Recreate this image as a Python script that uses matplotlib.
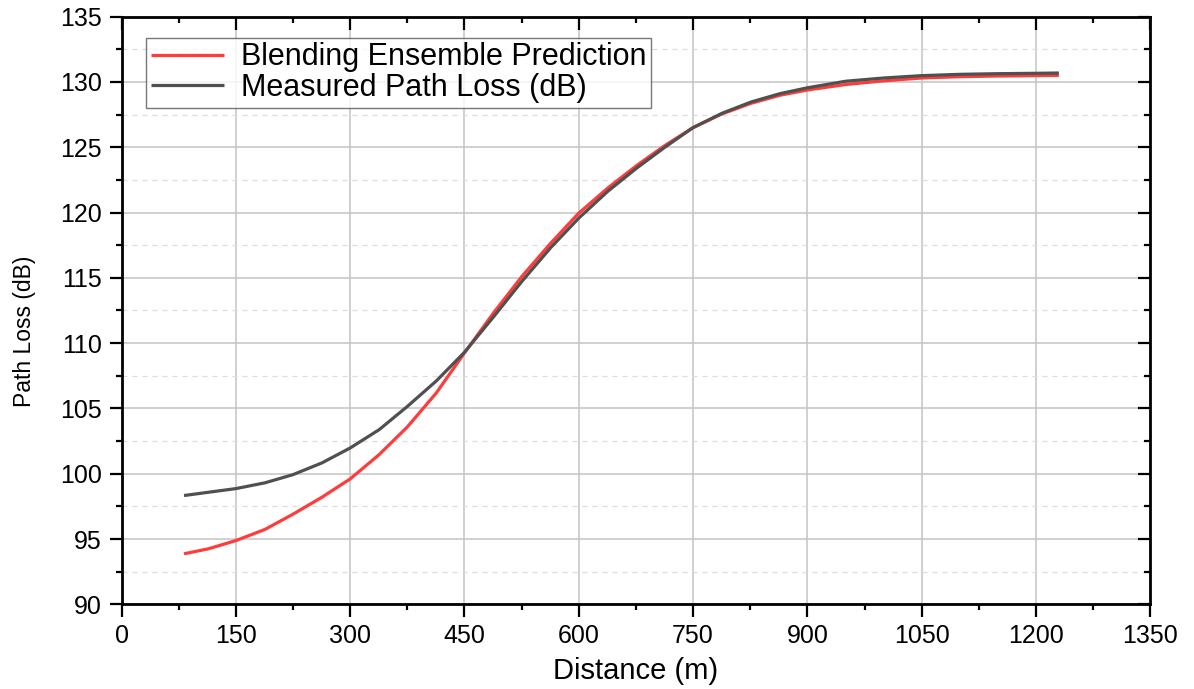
import matplotlib
matplotlib.use("Agg")
import matplotlib.pyplot as plt
from matplotlib.ticker import MultipleLocator
from matplotlib.lines import TICKDOWN, TICKLEFT

plt.rcParams['font.family'] = ['Liberation Sans', 'DejaVu Sans']

distance = [82, 114, 150, 188, 225, 263, 300, 338, 375, 413, 450, 488, 525,
            563, 600, 638, 676, 713, 750, 788, 826, 864, 900, 950, 1000, 1050,
            1100, 1150, 1200, 1230]
predicted = [93.87, 94.25, 94.88, 95.73, 96.9, 98.2, 99.6, 101.46, 103.58,
             106.18, 109.25, 112.3, 115.08, 117.64, 119.95, 121.87, 123.6,
             125.13, 126.5, 127.55, 128.36, 128.98, 129.38, 129.8, 130.08,
             130.3, 130.4, 130.45, 130.48, 130.5]
measured = [98.33, 98.58, 98.86, 99.3, 99.93, 100.83, 101.97, 103.37, 105.15,
            107.1, 109.3, 112.0, 114.7, 117.3, 119.57, 121.62, 123.4, 125.0,
            126.5, 127.6, 128.46, 129.1, 129.55, 130.05, 130.3, 130.48, 130.58,
            130.63, 130.66, 130.68]

label_pred = "Blending Ensemble Prediction"
label_meas = "Measured Path Loss (dB)"
xlabel = "Distance (m)"
ylabel = "Path Loss (dB)"

fig = plt.figure(figsize=(11.94, 6.89), dpi=100)
ax = fig.add_axes([0.1018, 0.1229, 0.8616, 0.8530])

ax.plot(distance, predicted, color='#ff3b3b', lw=2.3, label=label_pred,
        zorder=3, solid_capstyle='butt', solid_joinstyle='round')
ax.plot(distance, measured, color='#505050', lw=2.3, label=label_meas,
        zorder=4, solid_capstyle='butt', solid_joinstyle='round')

ax.set_xlim(0, 1350)
ax.set_ylim(90, 135)
ax.xaxis.set_major_locator(MultipleLocator(150))
ax.xaxis.set_minor_locator(MultipleLocator(75))
ax.yaxis.set_major_locator(MultipleLocator(5))
ax.yaxis.set_minor_locator(MultipleLocator(2.5))

ax.grid(which='major', axis='both', color='#c4c4c4', lw=1.1, ls='-', zorder=0)
ax.grid(which='minor', axis='y', color='#dcdcdc', lw=0.9, ls=(0, (4, 4)), zorder=0)
ax.set_axisbelow(True)

for s in ax.spines.values():
    s.set_linewidth(2.0)
    s.set_color('black')

ax.tick_params(which='both', top=True, right=True, width=1.6, labelsize=18,
               direction='out')
ax.tick_params(which='major', length=9, pad=5)
ax.tick_params(which='minor', length=4)
# top and right ticks point inward
for t in ax.xaxis.get_major_ticks() + ax.xaxis.get_minor_ticks():
    t.tick2line.set_marker(TICKDOWN)
for t in ax.yaxis.get_major_ticks() + ax.yaxis.get_minor_ticks():
    t.tick2line.set_marker(TICKLEFT)

ax.set_xlabel(xlabel, fontsize=21, labelpad=7)
ax.set_ylabel(ylabel, fontsize=16.5)
ax.yaxis.set_label_coords(-0.083, 0.465)

leg = ax.legend(loc='upper left', bbox_to_anchor=(0.024, 0.964), borderaxespad=0,
                fontsize=22, handlelength=2.4, handletextpad=0.55, labelspacing=0.02,
                borderpad=0.15, fancybox=False, frameon=True)
leg.get_frame().set_edgecolor('#555555')
leg.get_frame().set_linewidth(1.0)

fig.savefig("out.png", dpi=100)
